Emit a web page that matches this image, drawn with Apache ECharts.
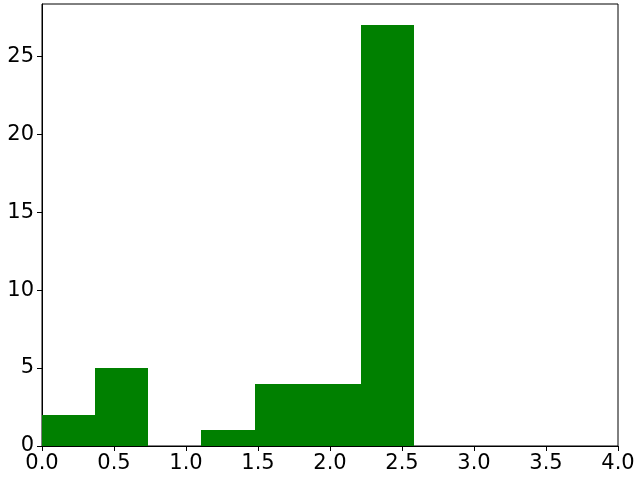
<!DOCTYPE html>
<html>
<head>
<meta charset="utf-8">
<script src="https://cdn.jsdelivr.net/npm/echarts@6/dist/echarts.min.js"></script>
<style>html,body{margin:0;padding:0;background:#fff;}#c{width:640px;height:480px;}</style>
</head>
<body>
<div id="c"></div>
<script>
const binEdges = [0, 0.369, 0.738, 1.107, 1.476, 1.845, 2.214, 2.583];
const counts = [2, 5, 0, 1, 4, 4, 27];
const xTicks = [0, 0.5, 1.0, 1.5, 2.0, 2.5, 3.0, 3.5, 4.0];
const yTicks = [0, 5, 10, 15, 20, 25];

const data = counts.map((c, i) => [binEdges[i], binEdges[i + 1], c]);
const chart = echarts.init(document.getElementById('c'), null, {renderer: 'canvas'});
const font = {fontFamily: 'DejaVu Sans', fontSize: 21, color: '#000'};
chart.setOption({
  animation: false,
  backgroundColor: '#fff',
  grid: {left: 42, right: 22, top: 4, bottom: 34, show: true, borderColor: '#000', borderWidth: 1, backgroundColor: 'transparent'},
  xAxis: {
    type: 'value', min: 0, max: 4,
    axisLine: {show: true, onZero: false, lineStyle: {color: '#000', width: 1}},
    axisTick: {show: true, customValues: xTicks, length: 5, lineStyle: {color: '#000'}},
    axisLabel: {customValues: xTicks, formatter: v => v.toFixed(1), margin: 7, ...font},
    splitLine: {show: false}
  },
  yAxis: {
    type: 'value', min: 0, max: 28.35,
    axisLine: {show: true, onZero: false, lineStyle: {color: '#000', width: 1}},
    axisTick: {show: true, customValues: yTicks, length: 5, lineStyle: {color: '#000'}},
    axisLabel: {customValues: yTicks, formatter: v => String(v), margin: 8, ...font},
    splitLine: {show: false}
  },
  series: [{
    type: 'custom',
    data: data,
    encode: {x: [0, 1], y: 2},
    z: 1,
    renderItem: function (params, api) {
      const p0 = api.coord([api.value(0), api.value(2)]);
      const p1 = api.coord([api.value(1), 0]);
      const x0 = Math.round(p0[0]), x1 = Math.round(p1[0]);
      const y0 = Math.round(p0[1]), y1 = Math.round(p1[1]);
      return {
        type: 'rect',
        shape: {x: x0, y: y0, width: x1 - x0, height: y1 - y0},
        style: {fill: '#008000', stroke: null}
      };
    }
  }]
});
</script>
</body>
</html>
